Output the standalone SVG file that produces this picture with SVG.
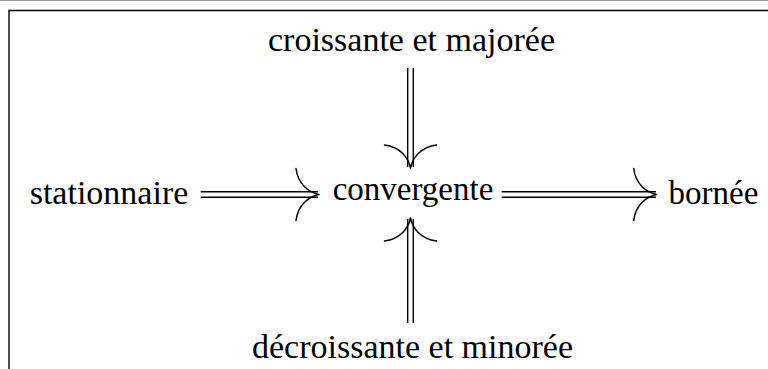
<svg xmlns="http://www.w3.org/2000/svg" width="768" height="369" viewBox="0 0 768 369">
<defs>
<path id="imp" stroke="#000" stroke-width="1.5" fill="none" stroke-linecap="round" d="M0,0 C-10,-2 -21,-10 -23,-26 M0,0 C-10,2 -21,10 -23,26"/>
</defs>
<rect width="768" height="369" fill="#fff"/>
<line x1="0" y1="0.5" x2="768" y2="0.5" stroke="#999" stroke-width="1.2"/>
<path d="M9,369 V10.5 H768" stroke="#000" stroke-width="1.4" fill="none"/>
<g id="n-croissante"><text x="411.5" y="51" font-family="Liberation Serif" font-size="34" text-anchor="middle">croissante et majorée</text></g>
<g id="n-stationnaire"><text x="109" y="204" font-family="Liberation Serif" font-size="34" text-anchor="middle">stationnaire</text></g>
<g id="n-convergente"><text x="413" y="200" font-family="Liberation Serif" font-size="33" text-anchor="middle">convergente</text></g>
<g id="n-bornee"><text x="713.5" y="204" font-family="Liberation Serif" font-size="33" text-anchor="middle">bornée</text></g>
<g id="n-decroissante"><text x="412.5" y="358" font-family="Liberation Serif" font-size="34" text-anchor="middle">décroissante et minorée</text></g>
<g id="connectors" stroke="#000" stroke-width="1.4" fill="none">
<g id="e-down">
<path d="M407.7,68 V167 M413.3,68 V167"/>
<use href="#imp" transform="translate(410.5,168) rotate(90)"/>
</g>
<g id="e-up">
<path d="M407.7,323 V219 M413.3,323 V219"/>
<use href="#imp" transform="translate(410.5,218) rotate(-90)"/>
</g>
<g id="e-left">
<path d="M200.7,191.7 H318 M200.7,197.3 H318"/>
<use href="#imp" transform="translate(319,194.5)"/>
</g>
<g id="e-right">
<path d="M501.7,191.7 H656 M501.7,197.3 H656"/>
<use href="#imp" transform="translate(656.7,194.5)"/>
</g>
</g>
</svg>
